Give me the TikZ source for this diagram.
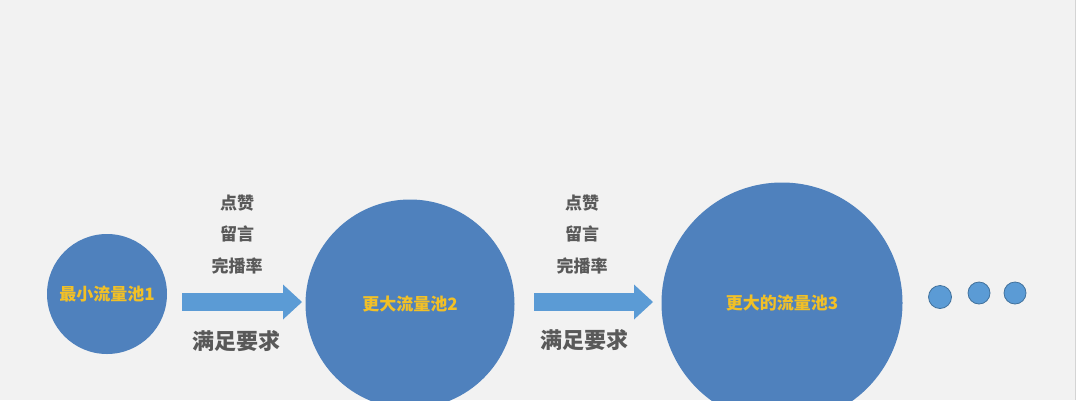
\documentclass[tikz,border=0pt]{standalone}
\usepackage{fontspec}
\newfontfamily\cjk{Noto Sans CJK SC}
\usetikzlibrary{arrows.meta}

\definecolor{bg}{HTML}{F2F2F2}
\definecolor{poolblue}{HTML}{4F81BD}
\definecolor{arrowblue}{HTML}{5B9BD5}
\definecolor{dotedge}{HTML}{41719C}
\definecolor{gold}{RGB}{242,192,38}
\definecolor{textgray}{HTML}{595959}
\definecolor{edgegray}{HTML}{D4D4D4}

\tikzstyle{pool} = [circle, fill=poolblue, inner sep=0pt, text=gold, font=\cjk\bfseries\fontsize{17}{20}\selectfont]
\tikzstyle{cond} = [inner sep=0pt, text=textgray, font=\cjk\bfseries\fontsize{17}{20}\selectfont]
\tikzstyle{need} = [inner sep=0pt, text=textgray, font=\cjk\bfseries\fontsize{22}{26}\selectfont]
\tikzstyle{push} = [draw=arrowblue, line width=18pt, -{Triangle[length=19pt, width=35pt, line width=0pt]}]
\tikzstyle{etc} = [circle, fill=arrowblue, draw=dotedge, line width=0.8pt, inner sep=0pt, minimum size=22pt]

\begin{document}
\begin{tikzpicture}[x=1pt, y=-1pt]
    \fill[bg] (0,0) rectangle (1076,400);
    \useasboundingbox (0,0) rectangle (1076,400);
    \draw[edgegray, line width=1pt] (1075.5,0) -- (1075.5,400);
    \node[pool, minimum size=120pt] (P1) at (107,294) {最小流量池1};
    \node[pool, minimum size=209pt] (P2) at (410,304) {更大流量池2};
    \node[pool, minimum size=241pt] (P3) at (782,303) {更大的流量池3};
    \node[cond] (C11) at (237,203) {点赞};
    \node[cond] (C12) at (237,234) {留言};
    \node[cond] (C13) at (237,266) {完播率};
    \node[need] (R1) at (236,341) {满足要求};
    \node[cond] (C21) at (582,203) {点赞};
    \node[cond] (C22) at (582,234) {留言};
    \node[cond] (C23) at (582,266) {完播率};
    \node[need] (R2) at (584,340) {满足要求};
    \node[etc, minimum size=23pt] (D1) at (940,297) {};
    \node[etc] (D2) at (979,293) {};
    \node[etc] (D3) at (1015,293) {};
    \coordinate (A1s) at (182,302);
    \coordinate (A1e) at (302,302);
    \coordinate (A2s) at (534,302);
    \coordinate (A2e) at (653,302);
    \draw[push] (A1s) -- (A1e);
    \draw[push] (A2s) -- (A2e);
  \end{tikzpicture}
\end{document}
